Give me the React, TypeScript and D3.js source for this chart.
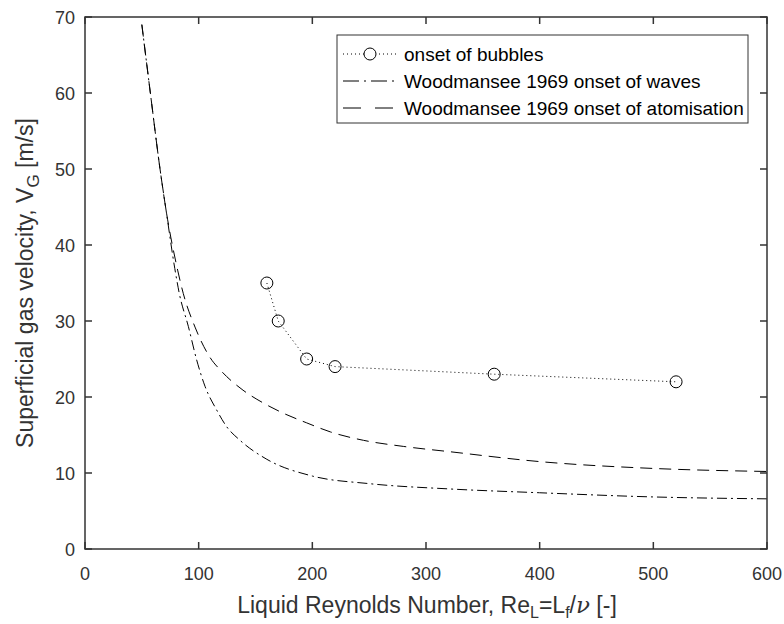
import React from "react";
import * as d3 from "d3";

const xTicks = [0, 100, 200, 300, 400, 500, 600];
const yTicks = [0, 10, 20, 30, 40, 50, 60, 70];

const bubblesRe = [160, 170, 195, 220, 360, 520];
const bubblesV = [35, 30, 25, 24, 23, 22];

const wavesRe = [50, 57.5, 66, 71.3, 79, 83, 90.9, 98.2, 105.6, 115.8, 124.6, 136.4, 160, 200, 250, 321, 400, 500, 600];
const wavesV = [69, 60, 50, 44.6, 36.9, 33.6, 29.3, 24.9, 21.4, 18.3, 16.1, 14.3, 11.8, 9.6, 8.6, 7.9, 7.4, 6.85, 6.6];

const atomRe = [50, 57.5, 66, 71.3, 81.5, 86.5, 96.8, 110, 120, 139, 157, 174, 195, 216, 245, 280, 321, 400, 500, 600];
const atomV = [69, 60, 50, 44.6, 36.7, 33.6, 29.2, 25.2, 23.4, 20.9, 19.2, 17.9, 16.6, 15.4, 14.3, 13.5, 12.8, 11.5, 10.6, 10.2];

const legendLabels = [
  "onset of bubbles",
  "Woodmansee 1969 onset of waves",
  "Woodmansee 1969 onset of atomisation",
];

const W = 784;
const H = 624;
const M = { left: 85, right: 767, top: 17, bottom: 549 };
const FONT = "'Liberation Sans', Arial, Helvetica, sans-serif";
const AX = "#333333";

export default function App() {
  const x = d3.scaleLinear().domain([0, 600]).range([M.left, M.right]);
  const y = d3.scaleLinear().domain([0, 70]).range([M.bottom, M.top]);
  const line = d3
    .line<[number, number]>()
    .x((d) => x(d[0]))
    .y((d) => y(d[1]))
    .curve(d3.curveMonotoneX);
  const lineLin = d3
    .line<[number, number]>()
    .x((d) => x(d[0]))
    .y((d) => y(d[1]));

  const waves = wavesRe.map((r, i) => [r, wavesV[i]] as [number, number]);
  const atom = atomRe.map((r, i) => [r, atomV[i]] as [number, number]);
  const bubbles = bubblesRe.map((r, i) => [r, bubblesV[i]] as [number, number]);

  const tickLen = 7;
  const lx0 = 343;
  const lx1 = 397;
  const ly = [54, 81, 108];

  return (
    <svg width={W} height={H} style={{ position: "absolute", left: 0, top: 0, background: "#fff" }}>
      <rect x={0} y={0} width={W} height={H} fill="#fff" />
      <defs>
        <clipPath id="plot">
          <rect x={M.left} y={M.top} width={M.right - M.left} height={M.bottom - M.top} />
        </clipPath>
      </defs>
      <g clipPath="url(#plot)" fill="none" stroke="#000" strokeWidth={1}>
        <path d={line(waves) || ""} strokeDasharray="10,4,2,4" />
        <path d={line(atom) || ""} strokeDasharray="12,7" />
        <path d={lineLin(bubbles) || ""} strokeDasharray="1,3" />
        {bubbles.map((d, i) => (
          <circle key={i} cx={x(d[0])} cy={y(d[1])} r={6} />
        ))}
      </g>
      <rect
        x={M.left}
        y={M.top}
        width={M.right - M.left}
        height={M.bottom - M.top}
        fill="none"
        stroke={AX}
        strokeWidth={1.5}
      />
      <g stroke={AX} strokeWidth={1.5}>
        {xTicks.map((t) => (
          <g key={"x" + t}>
            <line x1={x(t)} x2={x(t)} y1={M.bottom} y2={M.bottom - tickLen} />
            <line x1={x(t)} x2={x(t)} y1={M.top} y2={M.top + tickLen} />
          </g>
        ))}
        {yTicks.map((t) => (
          <g key={"y" + t}>
            <line x1={M.left} x2={M.left + tickLen} y1={y(t)} y2={y(t)} />
            <line x1={M.right} x2={M.right - tickLen} y1={y(t)} y2={y(t)} />
          </g>
        ))}
      </g>
      <g fill={AX} fontFamily={FONT} fontSize={18}>
        {xTicks.map((t) => (
          <text key={"xl" + t} x={x(t)} y={M.bottom + 31} textAnchor="middle">
            {t}
          </text>
        ))}
        {yTicks.map((t) => (
          <text key={"yl" + t} x={M.left - 10} y={y(t) + 6.5} textAnchor="end">
            {t}
          </text>
        ))}
      </g>
      <text x={(M.left + M.right) / 2 + 1} y={613} textAnchor="middle" fill={AX} fontFamily={FONT} fontSize={23}>
        Liquid Reynolds Number, Re
        <tspan dy={5} fontSize={16}>L</tspan>
        <tspan dy={-5}>=L</tspan>
        <tspan dy={5} fontSize={16}>f</tspan>
        <tspan dy={-5}>/</tspan>
        <tspan fontStyle="italic" fontFamily="'DejaVu Serif', 'Liberation Serif', serif">ν</tspan>
        <tspan> [-]</tspan>
      </text>
      <text
        transform={`translate(33, ${(M.top + M.bottom) / 2}) rotate(-90)`}
        textAnchor="middle"
        fill={AX}
        fontFamily={FONT}
        fontSize={23}
      >
        Superficial gas velocity, V
        <tspan dy={6} fontSize={17}>G</tspan>
        <tspan dy={-6}> [m/s]</tspan>
      </text>
      <rect x={337} y={35} width={411} height={88} fill="#fff" stroke={AX} strokeWidth={1} />
      <g fill="none" stroke="#000" strokeWidth={1}>
        <line x1={lx0} x2={lx1} y1={ly[0]} y2={ly[0]} strokeDasharray="1,3" />
        <circle cx={(lx0 + lx1) / 2} cy={ly[0]} r={6} fill="#fff" />
        <line x1={lx0} x2={lx1} y1={ly[1]} y2={ly[1]} strokeDasharray="16,5,2,5" />
        <line x1={lx0} x2={lx1} y1={ly[2]} y2={ly[2]} strokeDasharray="18,14" />
      </g>
      <g fill="#000" fontFamily={FONT} fontSize={19}>
        {legendLabels.map((l, i) => (
          <text key={l} x={404} y={ly[i] + 7}>
            {l}
          </text>
        ))}
      </g>
    </svg>
  );
}
